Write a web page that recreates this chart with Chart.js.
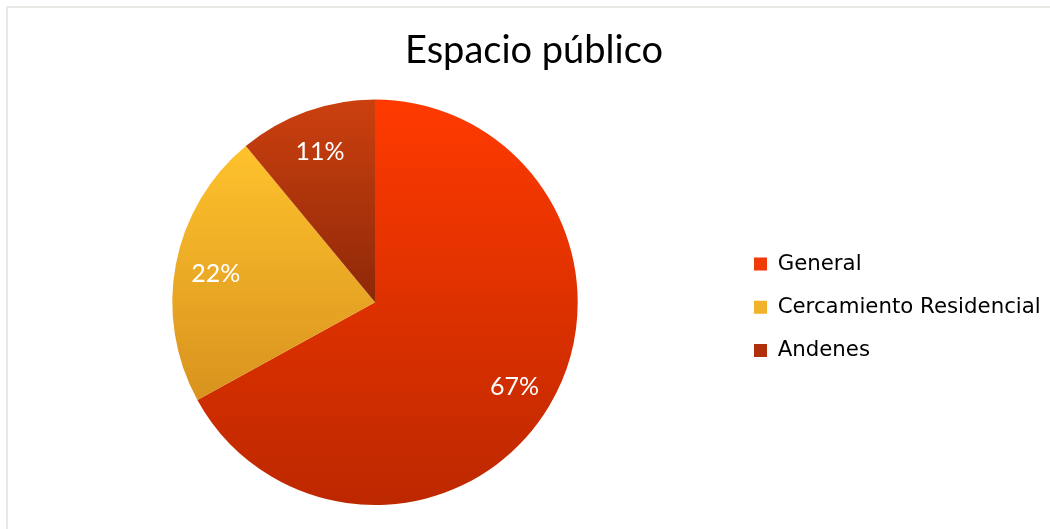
<!DOCTYPE html>
<html lang="es">
<head>
<meta charset="UTF-8">
<title>Espacio público</title>
<style>
  html, body { margin: 0; padding: 0; background: #fff; overflow: hidden; }
  .frame { position: absolute; left: 6px; top: 6px; width: 1200px; height: 700px;
           border-top: 2px solid #e8e8e4; border-left: 2px solid #e8e8e4; }
  .wrap { position: absolute; left: 0; top: 0; width: 1050px; height: 529px; }
</style>
<script src="https://cdn.jsdelivr.net/npm/chart.js"></script>
</head>
<body>
<div class="frame"></div>
<div class="wrap"><canvas id="pie"></canvas></div>
<script>
// datos del gráfico
const categories = ['General', 'Cercamiento Residencial', 'Andenes'];
const values = [67, 22, 11];
const valueLabels = ['67%', '22%', '11%'];

// gradiente vertical por sector (pos relativa en el alto del pastel)
const gradStops = [
  [[0, '#ff3a00'], [1, '#bd2800']],
  [[0.12, '#fec22c'], [0.75, '#d8921e']],
  [[0, '#cc400f'], [0.5, '#8e2808'], [1, '#6a1c04']]
];
const legendColors = ['#f03a08', '#f2b22a', '#b0300c'];

function sliceFill(ctx) {
  const chart = ctx.chart;
  const area = chart.chartArea;
  if (!area) return legendColors[ctx.dataIndex];
  const cy = (area.top + area.bottom) / 2;
  const r = Math.min(area.right - area.left, area.bottom - area.top) / 2;
  const g = chart.ctx.createLinearGradient(0, cy - r, 0, cy + r);
  gradStops[ctx.dataIndex].forEach(s => g.addColorStop(s[0], s[1]));
  return g;
}

// etiquetas de porcentaje dentro de cada sector
const sliceLabels = {
  id: 'sliceLabels',
  afterDatasetsDraw(chart) {
    const c = chart.ctx;
    const meta = chart.getDatasetMeta(0);
    c.save();
    c.fillStyle = '#ffffff';
    c.font = '25px Lato';
    c.textAlign = 'center';
    c.textBaseline = 'middle';
    meta.data.forEach((arc, i) => {
      const p = arc.getProps(['x', 'y', 'startAngle', 'endAngle', 'outerRadius'], true);
      const mid = (p.startAngle + p.endAngle) / 2;
      const d = p.outerRadius * 0.8;
      c.fillText(valueLabels[i], p.x + Math.cos(mid) * d, p.y + Math.sin(mid) * d + 2);
    });
    c.restore();
  }
};

new Chart(document.getElementById('pie'), {
  type: 'pie',
  data: {
    labels: categories,
    datasets: [{
      data: values,
      backgroundColor: sliceFill,
      borderWidth: 0
    }]
  },
  options: {
    responsive: true,
    maintainAspectRatio: false,
    animation: false,
    layout: { padding: { left: 18, top: 10, right: 0, bottom: 24 } },
    plugins: {
      title: {
        display: true,
        text: 'Espacio público',
        color: '#000',
        font: { family: 'Lato', size: 38, weight: 'normal' },
        padding: { top: 18, bottom: 26 }
      },
      legend: {
        position: 'right',
        fullSize: false,
        maxWidth: 318,
        // título vacío: solo baja un poco las entradas
        title: { display: true, text: '', color: '#000', padding: 0, font: { size: 10, lineHeight: 1 } },
        labels: {
          boxWidth: 13,
          boxHeight: 13,
          padding: 22,
          color: '#000',
          font: { family: '"DejaVu Sans"', size: 21.3 },
          generateLabels(chart) {
            return categories.map((t, i) => ({
              text: t,
              fillStyle: legendColors[i],
              strokeStyle: legendColors[i],
              fontColor: '#000',
              lineWidth: 0,
              hidden: false,
              index: i
            }));
          }
        }
      },
      tooltip: { enabled: false }
    }
  },
  plugins: [sliceLabels]
});
</script>
</body>
</html>
